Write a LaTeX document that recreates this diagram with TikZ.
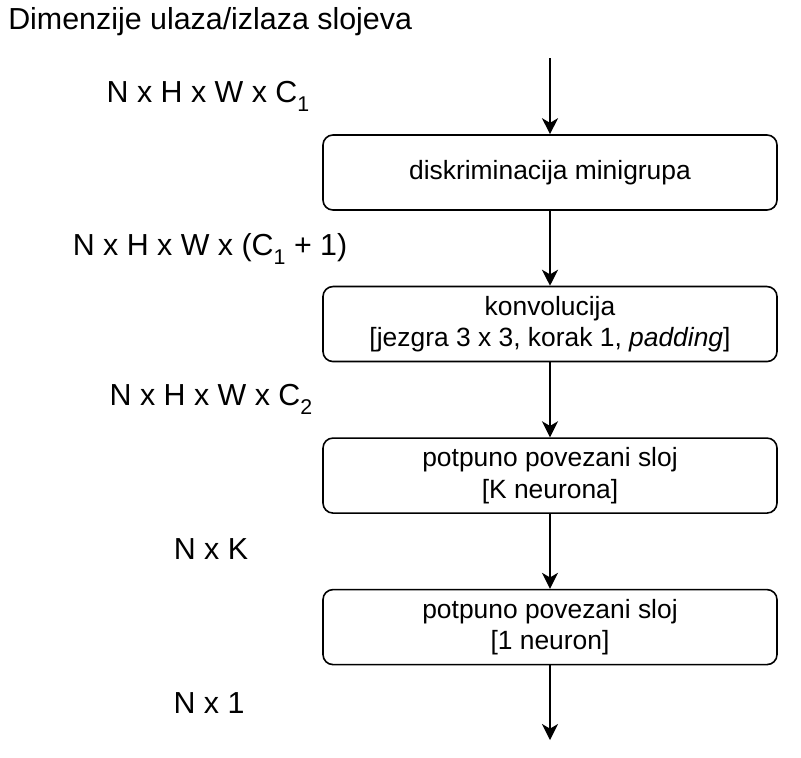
\documentclass[tikz,border=0pt]{standalone}
\usepackage{fontspec}
\setmainfont{Liberation Sans}
\usepackage{tikz}
\usetikzlibrary{arrows.meta, positioning}

\newcommand{\lowidx}[1]{\raisebox{-0.3em}{\fontsize{16pt}{16pt}\selectfont #1}}

\begin{document}
\begin{tikzpicture}[
    x=0.75pt, y=-0.75pt,
    font=\fontsize{19.8pt}{23.5pt}\selectfont,
    node distance=56.2pt,
    layer/.style={rectangle, draw=black, line width=1.2pt, rounded corners=7.5pt, minimum width=340.5pt, minimum height=56.25pt, align=center, inner sep=0pt},
    dimlabel/.style={anchor=base, inner sep=0pt, font=\fontsize{22.8pt}{27pt}\selectfont},
    arrow/.style={-{Stealth[length=12pt, width=12pt, inset=3.5pt]}, line width=1.2pt}
]
\useasboundingbox (0,0) rectangle (801,758);

\node[dimlabel, anchor=base west] (title) at (8,29) {Dimenzije ulaza/izlaza slojeva};

\node[layer] (mbd) at (550,172.5) {diskriminacija minigrupa};
\node[layer, below=of mbd] (conv) {konvolucija\\{}[jezgra 3 x 3, korak 1, \textit{padding}]};
\node[layer, below=of conv] (fc1) {potpuno povezani sloj\\{}[K neurona]};
\node[layer, below=of fc1] (fc2) {potpuno povezani sloj\\{}[1 neuron]};

\coordinate (in) at (550,58);
\coordinate (out) at (550,740);

\draw[arrow] (in) -- (mbd);
\draw[arrow] (mbd) -- (conv);
\draw[arrow] (conv) -- (fc1);
\draw[arrow] (fc1) -- (fc2);
\draw[arrow] (fc2) -- (out);

% dimenzije
\node[dimlabel] (dim1) at (208,102) {N x H x W x C\lowidx{1}};
\node[dimlabel] (dim2) at (210,255) {N x H x W x (C\lowidx{1} + 1)};
\node[dimlabel] (dim3) at (211,405) {N x H x W x C\lowidx{2}};
\node[dimlabel] (dim4) at (211,559) {N x K};
\node[dimlabel] (dim5) at (209,713) {N x 1};
\end{tikzpicture}
\end{document}
